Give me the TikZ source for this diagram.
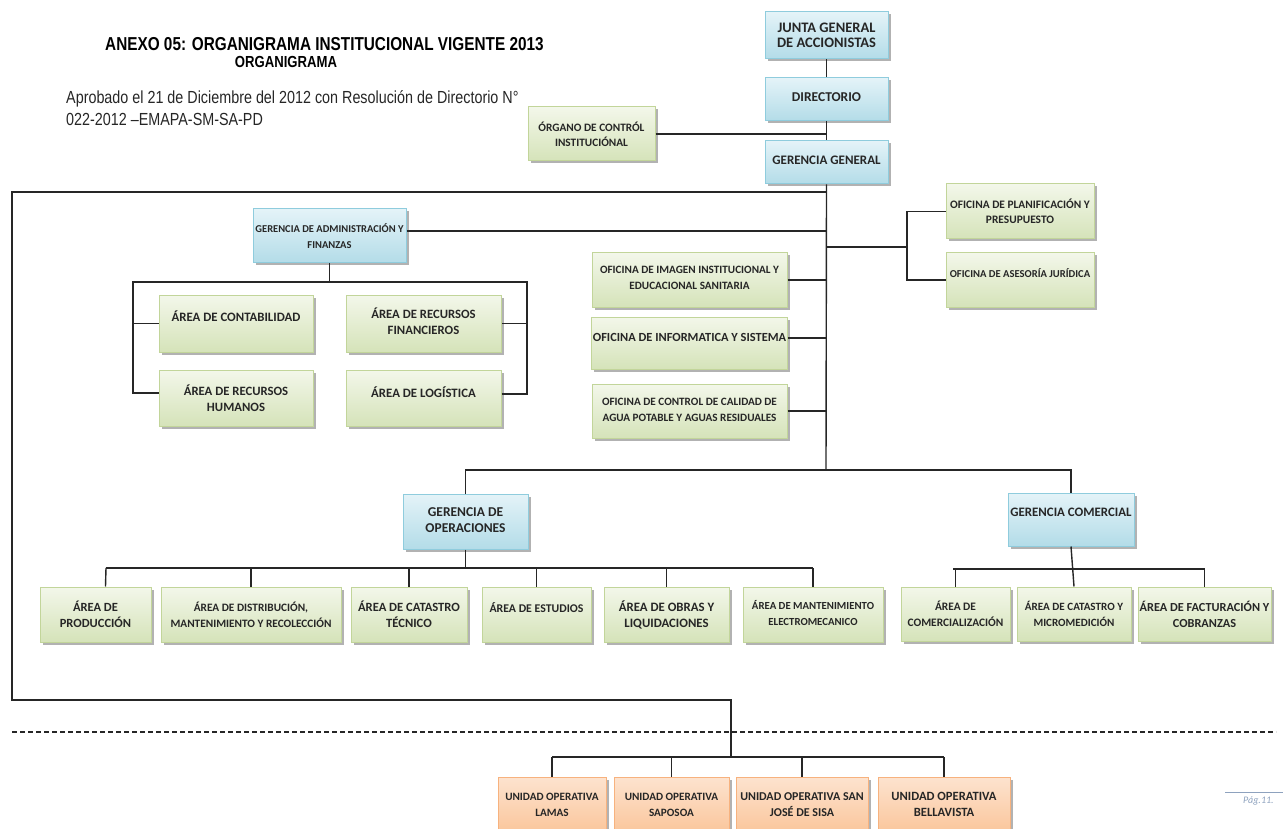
\documentclass[tikz,border=0pt]{standalone}
\usepackage{fontspec}
\setmainfont{Carlito}
\newfontfamily\narrowfont[FakeStretch=0.82]{Liberation Sans}
\usetikzlibrary{shadows}
\definecolor{btop}{HTML}{E4F3F8}
\definecolor{bbot}{HTML}{B3DCE8}
\definecolor{bdraw}{HTML}{8FCCDD}
\definecolor{gtop}{HTML}{F3F7EA}
\definecolor{gbot}{HTML}{D5E3B9}
\definecolor{gdraw}{HTML}{C2D59A}
\definecolor{otop}{HTML}{FDE3CF}
\definecolor{obot}{HTML}{FAC59A}
\definecolor{odraw}{HTML}{F7B27E}
\definecolor{txt}{HTML}{262626}
\definecolor{pagcol}{HTML}{8EA2BE}
\newcommand\boxnode[8][]{\node[#3,minimum width={(#6)-(#4)},minimum height={(#7)-(#5)},#1] (#2) at ({((#4)+(#6))/2},{((#5)+(#7))/2}) {#8};}
\begin{document}
\begin{tikzpicture}[x=1pt,y=-1pt,
  basebox/.style={rectangle,draw,line width=1pt,inner sep=1pt,align=center,text=txt,
    drop shadow={shadow xshift=2.5pt,shadow yshift=-2.5pt,fill=black,opacity=.3}},
  bluebox/.style={basebox,draw=bdraw,top color=btop,bottom color=bbot},
  greenbox/.style={basebox,draw=gdraw,top color=gtop,bottom color=gbot},
  orangebox/.style={basebox,draw=odraw,top color=otop,bottom color=obot},
  fs/.style 2 args={font=\bfseries\fontsize{#1}{#2}\selectfont},
  up/.style={text depth=#1pt},
  conn/.style={draw=black!85,line width=1.4pt},
  sepline/.style={draw=black!85,line width=1.4pt,dash pattern=on 5pt off 3pt}
]
\useasboundingbox (0,0) rectangle (1283,829);

% titles
\node[anchor=west,inner sep=0,font=\narrowfont\bfseries\fontsize{18.7}{22}\selectfont,text=black] (title) at (105,44) {ANEXO 05: ORGANIGRAMA INSTITUCIONAL VIGENTE 2013};
\node[inner sep=0,font=\narrowfont\bfseries\fontsize{16}{18}\selectfont,text=black] (sub) at (286,62) {ORGANIGRAMA};
\node[anchor=west,inner sep=0,font=\narrowfont\fontsize{17.5}{20}\selectfont,text=black!85] (apr1) at (66,99) {Aprobado el 21 de Diciembre del 2012 con Resolución de Directorio N°};
\node[anchor=west,inner sep=0,font=\narrowfont\fontsize{17.5}{20}\selectfont,text=black!85] (apr2) at (66,119) {022-2012 –EMAPA-SM-SA-PD};

% top hierarchy
\boxnode[fs={14.5}{15}]{jg}{bluebox}{765}{12}{888}{59}{JUNTA GENERAL\\DE ACCIONISTAS}
\boxnode[fs={13.5}{15},up=4]{dir}{bluebox}{765}{78}{888}{121}{DIRECTORIO}
\boxnode[fs={11.3}{15}]{oci}{greenbox}{528}{107}{655}{161}{ÓRGANO DE CONTRÓL\\INSTITUCIÓNAL}
\boxnode[fs={13}{15},up=4]{gg}{bluebox}{765}{141}{888}{184}{GERENCIA GENERAL}

% right offices
\boxnode[fs={11.4}{15}]{plan}{greenbox}{946}{184}{1094}{239}{OFICINA DE PLANIFICACIÓN Y\\PRESUPUESTO}
\boxnode[fs={10.6}{15},up=14]{ase}{greenbox}{946}{253}{1094}{307}{OFICINA DE ASESORÍA JURÍDICA}

% GAF
\boxnode[fs={10.5}{16}]{gaf}{bluebox}{253}{209}{406}{263}{GERENCIA DE ADMINISTRACIÓN Y\\FINANZAS}
\boxnode[fs={12.8}{16},up=14]{cont}{greenbox}{159}{295}{313}{352}{ÁREA DE CONTABILIDAD}
\boxnode[fs={12.7}{16}]{rrhh}{greenbox}{159}{370}{313}{426}{ÁREA DE RECURSOS\\HUMANOS}
\boxnode[fs={12.7}{16},up=4]{rf}{greenbox}{346}{295}{501}{352}{ÁREA DE RECURSOS\\FINANCIEROS}
\boxnode[fs={12.8}{16},up=12]{log}{greenbox}{346}{370}{501}{426}{ÁREA DE LOGÍSTICA}

% middle offices
\boxnode[fs={11.2}{16},up=4]{img}{greenbox}{592}{253}{787}{307}{OFICINA DE IMAGEN INSTITUCIONAL Y\\EDUCACIONAL SANITARIA}
\boxnode[fs={12.4}{16},up=12]{inf}{greenbox}{592}{317}{787}{369}{OFICINA DE INFORMATICA Y SISTEMA}
\boxnode[fs={11.2}{16},up=2]{cal}{greenbox}{592}{384}{787}{438}{OFICINA DE CONTROL DE CALIDAD DE\\AGUA POTABLE Y AGUAS RESIDUALES}

% gerencias
\boxnode[fs={13.5}{16},up=2]{go}{bluebox}{403}{494}{528}{549}{GERENCIA DE\\OPERACIONES}
\boxnode[fs={12.9}{16},up=14]{gc}{bluebox}{1008}{493}{1134}{546}{GERENCIA COMERCIAL}

% operaciones areas
\boxnode[fs={12.5}{16}]{prod}{greenbox}{40}{587}{151}{642}{ÁREA DE\\PRODUCCIÓN}
\boxnode[fs={11.3}{16}]{dist}{greenbox}{161}{587}{341}{642}{ÁREA DE DISTRIBUCIÓN,\\MANTENIMIENTO Y RECOLECCIÓN}
\boxnode[fs={12.6}{16}]{cat}{greenbox}{351}{587}{467}{642}{ÁREA DE CATASTRO\\TÉCNICO}
\boxnode[fs={11.8}{16},up=14]{est}{greenbox}{482}{587}{591}{642}{ÁREA DE ESTUDIOS}
\boxnode[fs={12.8}{16}]{obr}{greenbox}{604}{587}{729}{642}{ÁREA DE OBRAS Y\\LIQUIDACIONES}
\boxnode[fs={10.8}{16},up=4]{mant}{greenbox}{743}{587}{883}{642}{ÁREA DE MANTENIMIENTO\\ELECTROMECANICO}

% comercial areas
\boxnode[fs={11.4}{16}]{com}{greenbox}{901}{587}{1010}{641}{ÁREA DE\\COMERCIALIZACIÓN}
\boxnode[fs={11.1}{16}]{mic}{greenbox}{1017}{587}{1131}{641}{ÁREA DE CATASTRO Y\\MICROMEDICIÓN}
\boxnode[fs={12.3}{16}]{fac}{greenbox}{1138}{587}{1271}{641}{ÁREA DE FACTURACIÓN Y\\COBRANZAS}

% unidades operativas
\boxnode[fs={11.2}{16},up=2]{lam}{orangebox}{498}{777}{606}{834}{UNIDAD OPERATIVA\\LAMAS}
\boxnode[fs={11.2}{16},up=2]{sap}{orangebox}{614}{777}{729}{834}{UNIDAD OPERATIVA\\SAPOSOA}
\boxnode[fs={12}{16},up=2]{sjs}{orangebox}{736}{777}{868}{834}{UNIDAD OPERATIVA SAN\\JOSÉ DE SISA}
\boxnode[fs={12.6}{16},up=2]{bel}{orangebox}{878}{777}{1010}{834}{UNIDAD OPERATIVA\\BELLAVISTA}

% page mark
\node[anchor=west,inner sep=0,font=\itshape\fontsize{10}{12}\selectfont,text=pagcol] (pag) at (1243,801) {Pág.11.};
\draw[pagcol,line width=0.8pt] (1225,792) -- (1283,792);

% coordinates
\coordinate (tb) at (826,470);
\coordinate (lt) at (12,192);
\coordinate (lb) at (12,700);
\coordinate (ub) at (731,757);
\coordinate (gl) at (133,282);
\coordinate (gr) at (527,282);
\coordinate (pb) at (907,247);
\coordinate (hl) at (465,470);
\coordinate (hr) at (1072,470);
\coordinate (gob) at (106,568);
\coordinate (gcb) at (953,569);
\coordinate (dl) at (12,732);
\coordinate (dr) at (1276,732);

% connectors
\draw[conn] (jg.south) -- (dir.north);
\draw[conn] (dir.south) -- (gg.north);
\draw[conn] (oci.east) -- (oci.east -| gg.north);
\draw[conn] (gg.south) -- (tb);
\draw[conn] (gg.south |- lt) -- (lt) -- (lb) -| (ub);
\draw[conn] ([yshift=5pt]gaf.east) -- ([yshift=5pt]gaf.east -| tb);
\draw[conn] (gaf.south) -- (gaf.south |- gl);
\draw[conn] (cont.west) -| (gl) -- (gr) |- (rf.east);
\draw[conn] ([yshift=5pt]rrhh.west) -| (gl);
\draw[conn] ([yshift=4pt]log.east) -| (gr);
\draw[conn] (tb |- pb) -- (pb);
\draw[conn] (plan.west) -| (pb);
\draw[conn] (ase.west) -| (pb);
\draw[conn] (img.east) -- (img.east -| tb);
\draw[conn] ([yshift=5pt]inf.east) -- ([yshift=5pt]inf.east -| tb);
\draw[conn] (cal.east) -- (cal.east -| tb);
\draw[conn] (hl) -- (hr);
\draw[conn] (go.north) -- (go.north |- hl);
\draw[conn] (gc.north) -- (gc.north |- hr);
\draw[conn] (go.south) -- (go.south |- gob);
\draw[conn] (gob) -- (mant.north |- gob);
\draw[conn] (gob) -- ([xshift=10pt]prod.north);
\draw[conn] (dist.north) -- (dist.north |- gob);
\draw[conn] (cat.north) -- (cat.north |- gob);
\draw[conn] (est.north) -- (est.north |- gob);
\draw[conn] (obr.north) -- (obr.north |- gob);
\draw[conn] (mant.north) -- (mant.north |- gob);
\draw[conn] (gc.south) -- (mic.north);
\draw[conn] (com.north) |- (gcb) -- (fac.north |- gcb) -- (fac.north);
\draw[sepline] (dl) -- (dr);
\draw[conn] (lam.north |- ub) -- (bel.north |- ub);
\draw[conn] (lam.north) -- (lam.north |- ub);
\draw[conn] (sap.north) -- (sap.north |- ub);
\draw[conn] (sjs.north) -- (sjs.north |- ub);
\draw[conn] (bel.north) -- (bel.north |- ub);
\end{tikzpicture}
\end{document}
